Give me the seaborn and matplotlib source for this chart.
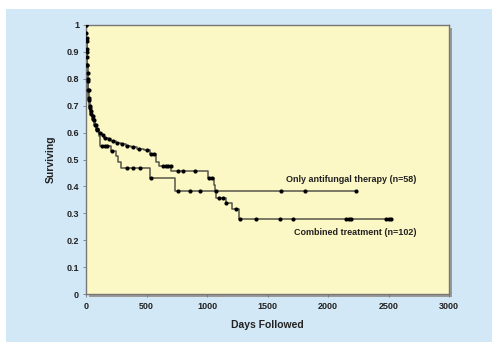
import numpy as np
import pandas as pd
import matplotlib
matplotlib.use("Agg")
import matplotlib.pyplot as plt
import seaborn as sns
from matplotlib.patches import Rectangle

# ---- data ----
combined_days = [0, 2, 4, 6, 8, 10, 13, 16, 20, 25, 32, 40, 50, 60, 75, 90, 107, 130, 150,
                 180, 205, 250, 290, 330, 370, 420, 480, 527, 582, 600, 705, 1010, 1060,
                 1068, 1075, 1160, 1210, 1268, 2520]
combined_surv = [1.0, 0.97, 0.94, 0.91, 0.88, 0.85, 0.82, 0.79, 0.76, 0.73, 0.70, 0.68, 0.66,
                 0.645, 0.63, 0.615, 0.60, 0.59, 0.58, 0.575, 0.568, 0.562, 0.556, 0.55, 0.545,
                 0.54, 0.535, 0.52, 0.49, 0.477, 0.458, 0.433, 0.405, 0.38, 0.358, 0.34, 0.315,
                 0.28, 0.28]
combined_censor = [1, 3, 5, 7, 9, 11, 14, 18, 22, 28, 35, 45, 55, 68, 80, 95, 115, 140, 160,
                   190, 220, 260, 300, 340, 390, 440, 500, 540, 560, 640, 660, 680, 700, 760,
                   800, 898, 1020, 1040, 1100, 1130, 1160, 1240, 1274, 1405, 1606, 1713,
                   2147, 2170, 2188, 2476, 2500, 2518]

antifungal_days = [0, 3, 6, 9, 12, 16, 20, 25, 35, 50, 66, 85, 107, 115, 203, 245, 265, 286,
                   527, 735, 2230]
antifungal_surv = [1.0, 0.95, 0.90, 0.85, 0.80, 0.76, 0.72, 0.69, 0.67, 0.65, 0.63, 0.61,
                   0.589, 0.552, 0.533, 0.514, 0.49, 0.47, 0.43, 0.383, 0.383]
antifungal_censor = [2, 5, 8, 11, 14, 18, 23, 30, 42, 58, 75, 95, 130, 155, 175, 215, 335,
                     390, 445, 540, 760, 857, 940, 1076, 1612, 1812, 2230]

xticks = [0, 500, 1000, 1500, 2000, 2500, 3000]
yticks = [0, 0.1, 0.2, 0.3, 0.4, 0.5, 0.6, 0.7, 0.8, 0.9, 1]
ytick_labels = ["0", "0.1", "0.2", "0.3", "0.4", "0.5", "0.6", "0.7", "0.8", "0.9", "1"]


def step_value(days, surv, t):
    idx = np.searchsorted(np.asarray(days), t, side="right") - 1
    return np.asarray(surv)[np.clip(idx, 0, len(surv) - 1)]


curves = pd.concat([
    pd.DataFrame({"days": combined_days, "surv": combined_surv, "group": "Combined"}),
    pd.DataFrame({"days": antifungal_days, "surv": antifungal_surv, "group": "Antifungal"}),
])
censors = pd.concat([
    pd.DataFrame({"days": combined_censor,
                  "surv": step_value(combined_days, combined_surv, combined_censor),
                  "group": "Combined"}),
    pd.DataFrame({"days": antifungal_censor,
                  "surv": step_value(antifungal_days, antifungal_surv, antifungal_censor),
                  "group": "Antifungal"}),
])

sns.set_style("ticks")
plt.rcParams["font.family"] = ["Liberation Sans", "DejaVu Sans"]

W, H = 492, 342
fig = plt.figure(figsize=(W / 100, H / 100), dpi=100)
fig.patch.set_facecolor("white")
# light blue panel
fig.patches.append(Rectangle((6 / W, 0), 1 - 6 / W, 1 - 9 / H, transform=fig.transFigure,
                             facecolor="#d3e8f6", edgecolor="none", zorder=-10))
left, right, top, bottom = 86 / W, 449 / W, 1 - 25 / H, 1 - 294 / H
# shadow
fig.patches.append(Rectangle((left + 3 / W, bottom - 3 / H), right - left, top - bottom,
                             transform=fig.transFigure, facecolor="#9a9a98",
                             edgecolor="none", zorder=-5))
ax = fig.add_axes([left, bottom, right - left, top - bottom])
ax.set_facecolor("#fcf8c6")

sns.lineplot(data=curves, x="days", y="surv", hue="group",
             palette={"Combined": "#55554a", "Antifungal": "#55554a"},
             drawstyle="steps-post", estimator=None, sort=False, legend=False,
             linewidth=1.1, ax=ax)
sns.scatterplot(data=censors, x="days", y="surv", color="black", marker="o", s=9,
                linewidth=0, legend=False, ax=ax, zorder=5)

ax.set_xlim(0, 3000)
ax.set_ylim(0, 1)
ax.set_xticks(xticks)
ax.set_xticklabels([str(t) for t in xticks], fontsize=6.5, fontweight="bold", color="#222")
ax.set_yticks(yticks)
ax.set_yticklabels(ytick_labels, fontsize=6.5, fontweight="bold", color="#222")
ax.tick_params(length=2, width=0.6, color="#777")
ax.tick_params(axis="y", pad=3)
ax.tick_params(axis="x", pad=4)
for s in ax.spines.values():
    s.set_color("#777")
    s.set_linewidth(1.0)

ax.set_xlabel("Days Followed", fontsize=7.5, fontweight="bold", color="#222", labelpad=6)
ax.set_ylabel("Surviving", fontsize=7.5, fontweight="bold", color="#222", labelpad=8)

ax.text(2730, 0.424, "Only antifungal therapy (n=58)", ha="right", va="center",
        fontsize=6.5, fontweight="bold", color="#222")
ax.text(2730, 0.23, "Combined treatment (n=102)", ha="right", va="center",
        fontsize=6.5, fontweight="bold", color="#222")

fig.savefig("out.png", dpi=100)
